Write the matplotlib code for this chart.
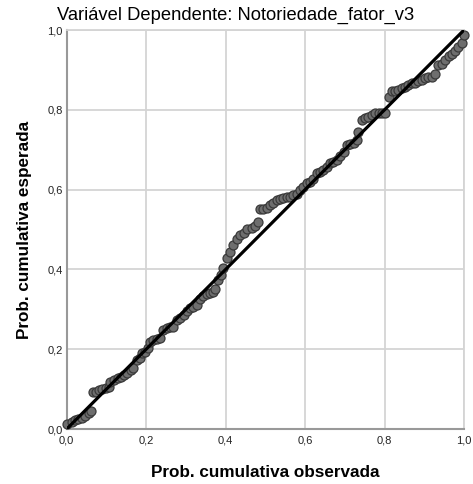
import matplotlib
matplotlib.use("Agg")
import matplotlib.pyplot as plt
import numpy as np

plt.rcParams['font.family'] = ['Liberation Sans', 'DejaVu Sans']

title = "Variável Dependente: Notoriedade_fator_v3"
xlabel = "Prob. cumulativa observada"
ylabel = "Prob. cumulativa esperada"
ticks = [0.0, 0.2, 0.4, 0.6, 0.8, 1.0]
tick_labels = ["0,0", "0,2", "0,4", "0,6", "0,8", "1,0"]

observed = [
    0.002, 0.013, 0.021, 0.029, 0.038, 0.046, 0.055, 0.060,
    0.065, 0.073, 0.082, 0.090, 0.098, 0.107,
    0.110, 0.119, 0.128, 0.136, 0.144, 0.153, 0.161, 0.168,
    0.176, 0.185, 0.189, 0.197, 0.205,
    0.210, 0.218, 0.227, 0.235,
    0.243, 0.252, 0.260, 0.268,
    0.277, 0.285, 0.294, 0.302, 0.310, 0.319, 0.327,
    0.336, 0.344, 0.352, 0.361, 0.369, 0.373, 0.382, 0.388, 0.394,
    0.403, 0.411, 0.419, 0.428, 0.436, 0.445, 0.453, 0.466, 0.474, 0.482,
    0.487, 0.495, 0.503, 0.512, 0.520, 0.529, 0.537, 0.545, 0.554, 0.562, 0.570, 0.579,
    0.587, 0.596, 0.604, 0.612, 0.621, 0.629, 0.638, 0.646, 0.654, 0.663, 0.671, 0.680,
    0.688, 0.697, 0.705, 0.713, 0.722, 0.730, 0.734, 0.743, 0.751, 0.759, 0.768, 0.776,
    0.785, 0.793, 0.801,
    0.810, 0.818, 0.826, 0.835, 0.843, 0.852, 0.860, 0.868, 0.877, 0.885, 0.894,
    0.902, 0.910, 0.919, 0.927,
    0.935, 0.944, 0.952, 0.961, 0.969, 0.977, 0.986, 0.994, 1.000,
]
expected = [
    0.013, 0.018, 0.023, 0.024, 0.027, 0.033, 0.039, 0.046,
    0.092, 0.094, 0.098, 0.100, 0.102, 0.106,
    0.119, 0.123, 0.127, 0.131, 0.135, 0.141, 0.148, 0.152,
    0.173, 0.177, 0.190, 0.194, 0.202,
    0.219, 0.223, 0.225, 0.227,
    0.248, 0.252, 0.255, 0.256,
    0.273, 0.277, 0.286, 0.297, 0.303, 0.307, 0.311,
    0.327, 0.333, 0.338, 0.341, 0.344, 0.352, 0.373, 0.386, 0.403,
    0.428, 0.443, 0.462, 0.476, 0.486, 0.492, 0.501, 0.503, 0.509, 0.520,
    0.551, 0.551, 0.553, 0.561, 0.567, 0.574, 0.576, 0.580, 0.581, 0.582, 0.586, 0.590,
    0.599, 0.607, 0.616, 0.620, 0.626, 0.641, 0.645, 0.649, 0.657, 0.666, 0.670, 0.674,
    0.683, 0.695, 0.712, 0.714, 0.718, 0.724, 0.745, 0.774, 0.779, 0.783, 0.788, 0.791,
    0.793, 0.793, 0.791,
    0.831, 0.846, 0.848, 0.850, 0.854, 0.858, 0.862, 0.866, 0.868, 0.871, 0.875,
    0.879, 0.881, 0.883, 0.889,
    0.912, 0.916, 0.926, 0.935, 0.941, 0.948, 0.958, 0.967, 0.987,
]

fig = plt.figure(figsize=(4.73, 4.84), dpi=100)
ax = fig.add_axes([0.141, 0.1136, 0.840, 0.8244])

for t in ticks:
    ax.axhline(t, color='#d4d4d4', lw=1.3, zorder=0)
    ax.axvline(t, color='#d4d4d4', lw=1.3, zorder=0)

ax.scatter(observed, expected, s=42, facecolor='#6e6e6e', edgecolor='#3a3a3a',
           linewidth=0.9, zorder=3, clip_on=False)
ax.plot([0, 1], [0, 1], color='black', lw=2.3, zorder=4, solid_capstyle='butt')

ax.set_xlim(0, 1)
ax.set_ylim(0, 1)
ax.set_xticks(ticks)
ax.set_yticks(ticks)
ax.set_xticklabels(tick_labels, fontsize=8, color='#222222')
ax.set_yticklabels(tick_labels, fontsize=8, color='#222222')
ax.tick_params(axis='x', length=0, pad=5)
ax.tick_params(axis='y', length=0, pad=3)
# lower the y "0,0" label slightly like the reference
ylabs = ax.get_yticklabels()

for s in ['top', 'right']:
    ax.spines[s].set_color('#d4d4d4')
    ax.spines[s].set_linewidth(1.3)
for s in ['left', 'bottom']:
    ax.spines[s].set_color('#999999')
    ax.spines[s].set_linewidth(1.5)

ax.set_xlabel(xlabel, fontsize=12.3, fontweight='bold', labelpad=14)
ax.set_ylabel(ylabel, fontsize=12.3, fontweight='bold', labelpad=11)
fig.text(0.497, 0.968, title, fontsize=13.2, ha='center', va='center')

fig.savefig('out.png', dpi=100)
